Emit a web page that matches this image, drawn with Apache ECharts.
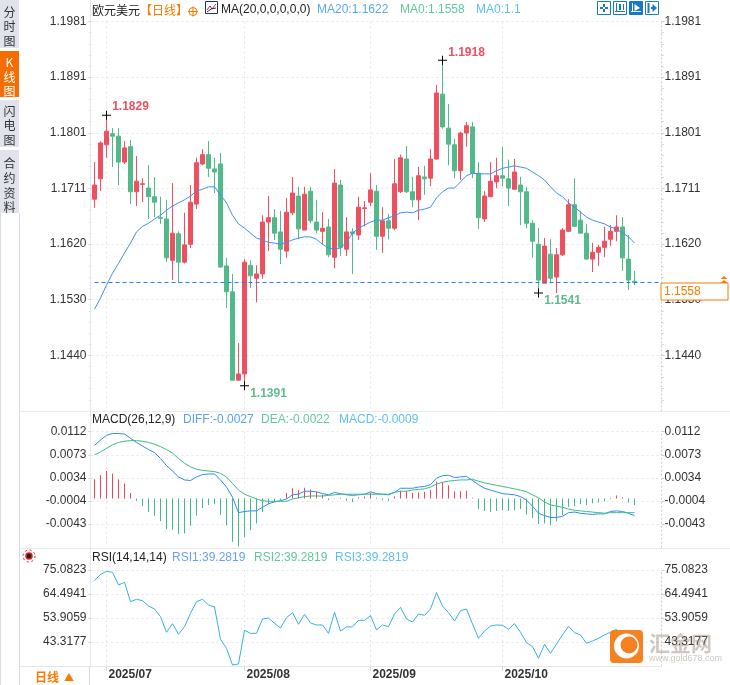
<!DOCTYPE html>
<html>
<head>
<meta charset="utf-8">
<style>
  html, body { margin: 0; padding: 0; background: #fff; }
  #chart { width: 730px; height: 685px; }
</style>
<script src="https://cdn.jsdelivr.net/npm/echarts@6/dist/echarts.min.js"></script>
</head>
<body>
<div id="chart"></div>
<script>
// trading days, the last four slots are the empty room right of the last candle
const categories = [
  '2025/06/27','2025/06/30',
  '2025/07/01','2025/07/02','2025/07/03','2025/07/04','2025/07/07','2025/07/08','2025/07/09','2025/07/10','2025/07/11',
  '2025/07/14','2025/07/15','2025/07/16','2025/07/17','2025/07/18','2025/07/21','2025/07/22','2025/07/23','2025/07/24','2025/07/25',
  '2025/07/28','2025/07/29','2025/07/30','2025/07/31',
  '2025/08/01','2025/08/04','2025/08/05','2025/08/06','2025/08/07','2025/08/08','2025/08/11','2025/08/12','2025/08/13','2025/08/14','2025/08/15',
  '2025/08/18','2025/08/19','2025/08/20','2025/08/21','2025/08/22','2025/08/25','2025/08/26','2025/08/27','2025/08/28','2025/08/29',
  '2025/09/01','2025/09/02','2025/09/03','2025/09/04','2025/09/05','2025/09/08','2025/09/09','2025/09/10','2025/09/11','2025/09/12',
  '2025/09/15','2025/09/16','2025/09/17','2025/09/18','2025/09/19','2025/09/22','2025/09/23','2025/09/24','2025/09/25','2025/09/26','2025/09/29','2025/09/30',
  '2025/10/01','2025/10/02','2025/10/03','2025/10/06','2025/10/07','2025/10/08','2025/10/09','2025/10/10','2025/10/13','2025/10/14','2025/10/15','2025/10/16','2025/10/17',
  '2025/10/20','2025/10/21','2025/10/22','2025/10/23','2025/10/24','2025/10/27','2025/10/28','2025/10/29','2025/10/30','2025/10/31',
  ' ','  ','   ','    '
];
const monthTicks = [2, 25, 46, 68];

const opens = [
  1.1693,1.1726,1.1781,1.1799,1.1795,1.1753,1.1778,1.1705,1.1717,1.1711,
  1.1697,1.1663,1.1661,1.1594,1.1637,1.1591,1.1620,1.1685,1.1750,1.1765,
  1.1742,1.1750,1.1585,1.1543,1.1400,1.1410,1.1586,1.1565,1.1572,1.1656,
  1.1663,1.1640,1.1609,1.1671,1.1698,1.1643,1.1706,1.1656,1.1641,1.1648,
  1.1599,1.1716,1.1612,1.1640,1.1635,1.1678,1.1688,1.1706,1.1633,1.1658,
  1.1646,1.1705,1.1758,1.1705,1.1692,1.1729,1.1727,1.1758,1.1863,1.1808,
  1.1781,1.1739,1.1800,1.1810,1.1735,1.1661,1.1697,1.1721,1.1731,1.1726,
  1.1709,1.1716,1.1705,1.1654,1.1620,1.1557,1.1604,1.1567,1.1603,1.1641,
  1.1684,1.1659,1.1638,1.1596,1.1607,1.1615,1.1628,1.1641,1.1648,1.1596,1.1560
];
const closes = [
  1.1716,1.1784,1.1803,1.1795,1.1753,1.1776,1.1705,1.1722,1.1718,1.1697,
  1.1688,1.1662,1.1598,1.1638,1.1591,1.1619,1.1688,1.1752,1.1765,1.1743,
  1.1737,1.1583,1.1543,1.1400,1.1410,1.1591,1.1569,1.1572,1.1656,1.1663,
  1.1638,1.1612,1.1672,1.1703,1.1645,1.1701,1.1658,1.1643,1.1646,1.1603,
  1.1719,1.1615,1.1640,1.1637,1.1680,1.1679,1.1708,1.1633,1.1658,1.1646,
  1.1718,1.1760,1.1705,1.1692,1.1731,1.1726,1.1758,1.1865,1.1810,1.1782,
  1.1739,1.1800,1.1812,1.1735,1.1663,1.1698,1.1722,1.1731,1.1727,1.1711,
  1.1737,1.1705,1.1654,1.1625,1.1562,1.1617,1.1565,1.1603,1.1643,1.1684,
  1.1649,1.1638,1.1596,1.1607,1.1615,1.1625,1.1641,1.1648,1.1598,1.1562,1.1558
];
const lows = [
  1.1679,1.1706,1.1760,1.1745,1.1716,1.1750,1.1685,1.1682,1.1688,1.1661,
  1.1664,1.1653,1.1591,1.1562,1.1557,1.1589,1.1614,1.1677,1.1748,1.1729,
  1.1703,1.1583,1.1517,1.1400,1.1400,1.1391,1.1549,1.1526,1.1564,1.1609,
  1.1627,1.1588,1.1598,1.1667,1.1628,1.1643,1.1654,1.1638,1.1620,1.1599,
  1.1581,1.1601,1.1601,1.1572,1.1627,1.1649,1.1682,1.1611,1.1606,1.1628,
  1.1643,1.1703,1.1703,1.1680,1.1659,1.1700,1.1714,1.1757,1.1807,1.1748,
  1.1727,1.1724,1.1778,1.1727,1.1645,1.1656,1.1697,1.1711,1.1714,1.1682,
  1.1709,1.1651,1.1646,1.1598,1.1541,1.1557,1.1557,1.1541,1.1601,1.1640,
  1.1649,1.1638,1.1596,1.1575,1.1585,1.1599,1.1617,1.1625,1.1577,1.1546,1.1554
];
const highs = [
  1.1753,1.1787,1.1829,1.1808,1.1808,1.1787,1.1789,1.1763,1.1727,1.1748,
  1.1729,1.1697,1.1692,1.1719,1.1641,1.1671,1.1716,1.1760,1.1774,1.1787,
  1.1760,1.1768,1.1598,1.1572,1.1460,1.1596,1.1594,1.1586,1.1667,1.1698,
  1.1677,1.1674,1.1695,1.1729,1.1713,1.1713,1.1713,1.1692,1.1672,1.1661,
  1.1742,1.1724,1.1664,1.1646,1.1697,1.1690,1.1735,1.1716,1.1680,1.1669,
  1.1758,1.1765,1.1779,1.1729,1.1745,1.1747,1.1774,1.1878,1.1918,1.1847,
  1.1791,1.1802,1.1818,1.1818,1.1753,1.1706,1.1753,1.1760,1.1778,1.1757,
  1.1758,1.1729,1.1713,1.1659,1.1646,1.1630,1.1628,1.1614,1.1646,1.1693,
  1.1727,1.1674,1.1653,1.1622,1.1619,1.1648,1.1651,1.1667,1.1664,1.1635,1.1577
];
const ma20 = [
  1.1515,1.1533,1.1554,1.1573,1.1589,1.1606,1.1622,1.1640,1.1649,1.1654,
  1.1661,1.1667,1.1675,1.1682,1.1687,1.1692,1.1698,1.1706,1.1709,1.1713,
  1.1713,1.1700,1.1687,1.1667,1.1653,1.1646,1.1638,1.1630,1.1627,1.1623,
  1.1622,1.1620,1.1623,1.1627,1.1630,1.1632,1.1632,1.1628,1.1620,1.1614,
  1.1612,1.1614,1.1623,1.1638,1.1646,1.1651,1.1656,1.1659,1.1659,1.1663,
  1.1666,1.1671,1.1672,1.1671,1.1675,1.1677,1.1680,1.1695,1.1705,1.1711,
  1.1711,1.1721,1.1731,1.1735,1.1734,1.1734,1.1734,1.1739,1.1743,1.1745,
  1.1747,1.1745,1.1743,1.1737,1.1731,1.1724,1.1713,1.1703,1.1697,1.1687,
  1.1680,1.1672,1.1664,1.1659,1.1656,1.1653,1.1648,1.1645,1.1638,1.1632,1.1622
];
const diff = [
  .0089,.0098,.0106,.0109,.0109,.0108,.0101,.0094,.0088,.0082,
  .0077,.0067,.0055,.0046,.0036,.0031,.0030,.0036,.0040,.0041,
  .0041,.0031,.0019,.0002,-.0024,-.0022,-.0021,-.0021,-.0015,-.0009,
  -.0006,-.0004,-.0001,.0006,.0007,.0012,.0012,.0011,.0008,.0006,
  .0010,.0008,.0006,.0005,.0006,.0007,.0011,.0008,.0007,.0006,
  .0010,.0017,.0017,.0017,.0019,.0020,.0023,.0034,.0038,.0039,
  .0035,.0036,.0037,.0030,.0023,.0017,.0014,.0011,.0008,.0007,
  .0006,.0003,-.0003,-.0013,-.0025,-.0029,-.0032,-.0032,-.0030,-.0024,
  -.0023,-.0025,-.0026,-.0027,-.0026,-.0026,-.0022,-.0021,-.0022,-.0025,-.0029
];
const dea = [
  .0073,.0078,.0084,.0090,.0094,.0096,.0097,.0097,.0096,.0094,
  .0091,.0087,.0082,.0076,.0067,.0059,.0053,.0049,.0047,.0046,
  .0045,.0042,.0036,.0025,.0014,.0007,.0003,-.0001,-.0004,-.0005,
  -.0005,-.0005,-.0005,-.0001,.0001,.0003,.0004,.0004,.0004,.0005,
  .0006,.0007,.0007,.0007,.0007,.0007,.0007,.0007,.0007,.0007,
  .0010,.0012,.0012,.0014,.0015,.0016,.0019,.0024,.0027,.0029,
  .0030,.0031,.0031,.0032,.0029,.0026,.0024,.0022,.0020,.0018,
  .0016,.0014,.0011,.0006,.0001,-.0006,-.0011,-.0013,-.0015,-.0018,
  -.0020,-.0021,-.0022,-.0023,-.0024,-.0025,-.0024,-.0024,-.0024,-.0024,-.0024
];
const macdBars = [
  .0032,.0039,.0046,.0042,.0032,.0025,.0009,-.0004,-.0013,-.0023,
  -.0029,-.0038,-.0052,-.0053,-.0060,-.0059,-.0046,-.0029,-.0016,-.0011,
  -.0010,-.0028,-.0045,-.0073,-.0081,-.0065,-.0053,-.0042,-.0023,-.0010,
  -.0006,-.0003,.0009,.0017,.0014,.0018,.0015,.0011,.0006,-.0003,
  -.0001,.0001,-.0004,-.0006,.0002,.0003,.0009,.0001,-.0003,-.0004,
  .0003,.0013,.0013,.0009,.0010,.0011,.0014,.0028,.0027,.0022,
  .0012,.0012,.0013,.0001,-.0018,-.0021,-.0023,-.0021,-.0020,-.0021,
  -.0020,-.0018,-.0027,-.0033,-.0043,-.0042,-.0045,-.0039,-.0028,-.0014,
  -.0013,-.0010,-.0011,-.0008,-.0007,-.0005,.0001,.0005,.0002,-.0007,-.0011
];
const rsi = [
  70.38,73.17,74.50,74.06,68.47,69.65,61.12,62.15,61.56,59.21,
  57.89,54.50,47.60,51.42,46.71,50.09,55.97,61.12,62.15,59.65,
  58.77,44.51,40.54,33.19,33.63,48.48,47.15,47.15,53.48,53.92,
  51.56,49.51,54.06,56.27,51.12,55.53,51.71,50.83,50.83,47.15,
  56.42,48.18,49.95,49.95,52.89,52.89,54.95,48.62,50.83,50.09,
  55.68,58.62,53.48,52.15,55.68,55.09,57.89,65.09,59.21,56.27,
  52.59,57.15,57.89,51.27,44.95,48.18,50.39,50.83,50.68,48.92,
  51.42,47.60,43.04,41.27,36.13,42.30,38.33,42.45,46.42,50.24,
  47.45,46.42,42.74,43.77,44.95,46.42,47.60,48.92,45.50,40.60,39.28
];
// marked extremes: [candle index, price]
const highMarks = [[2, 1.1829], [58, 1.1918]];
const lowMarks = [[25, 1.1391], [74, 1.1541]];
const lastPrice = 1.1558;

const priceLabels = ['', '1.1440', '1.1530', '1.1620', '1.1711', '1.1801', '1.1891', '1.1981'];
const macdTicks = [0.0112, 0.0073, 0.0034, -0.0004, -0.0043];
const rsiTicks = [75.0823, 64.4941, 53.9059, 43.3177];

const UP = '#ef5060';
const DOWN = '#52b98a';
const ORANGE = '#f57c00';
const FONT = '"Liberation Sans", "Noto Sans CJK SC", sans-serif';
const GRID_LINE = { type: [2, 3], color: '#e6e6e6', width: 1 };
const BORDER = '#e3e6ec';

const isMonth = (i) => monthTicks.includes(i);

function makeXAxis(gridIndex, showLabel) {
  return {
    type: 'category',
    gridIndex,
    data: categories,
    boundaryGap: true,
    axisLine: { show: false },
    axisTick: { show: showLabel, alignWithLabel: true, interval: isMonth, length: 5, lineStyle: { color: '#cfd3da' } },
    axisLabel: {
      show: showLabel,
      interval: isMonth,
      formatter: (v) => v.slice(0, 7),
      align: 'left',
      padding: [0, 0, 0, 2],
      margin: 3,
      color: '#333',
      fontWeight: 'bold',
      fontSize: 12,
      fontFamily: FONT
    },
    splitLine: { show: true, alignWithLabel: true, interval: isMonth, lineStyle: GRID_LINE }
  };
}

function makeYAxis(gridIndex, position, extra) {
  const left = position === 'left';
  return Object.assign({
    type: 'value',
    gridIndex,
    position,
    scale: true,
    axisLine: { show: !left, onZero: false, lineStyle: { color: '#c8c8c8', type: [1, 3] } },
    axisTick: { show: true, length: 3, lineStyle: { color: '#c8ccd2' } },
    splitLine: { show: left, lineStyle: GRID_LINE },
    axisLabel: { margin: left ? 5 : 3, color: '#333', fontSize: 12, fontFamily: FONT }
  }, extra);
}

const priceAxis = {
  min: 1.135008,
  max: 1.198064,
  interval: 0.009008,
  minorTick: { show: true, splitNumber: 5, length: 2, lineStyle: { color: '#c8ccd2' } }
};
function priceYAxis(position) {
  const axis = makeYAxis(0, position, priceAxis);
  axis.axisLabel.formatter = (v, i) => priceLabels[i];
  return axis;
}
function customYAxis(gridIndex, position, min, max, ticks, digits) {
  const axis = makeYAxis(gridIndex, position, { min, max });
  axis.axisTick.customValues = ticks;
  axis.axisLabel.customValues = ticks;
  axis.axisLabel.formatter = (v) => v.toFixed(digits);
  return axis;
}

function markLabel(offsetY, color) {
  return {
    show: true,
    position: 'inside',
    offset: [24, offsetY],
    formatter: (p) => p.value.toFixed(4),
    color,
    fontSize: 12,
    fontWeight: 'bold',
    fontFamily: FONT
  };
}
const CROSS = 'path://M0 4H4V0H5V4H9V5H5V9H4V5H0Z';
const extremePoints = [
  ...highMarks.map(([i, v]) => ({ coord: [i, v], value: v, label: markLabel(-8, UP) })),
  ...lowMarks.map(([i, v]) => ({ coord: [i, v], value: v, label: markLabel(8, '#5fba8f') }))
];

// ---- page furniture around the plot (tabs, legends, toolbar, logo) ----
const furniture = [];
function text(x, y, str, fill, font, extra) {
  furniture.push({
    type: 'text', z: 50, silent: true,
    style: Object.assign({ x, y, text: str, fill, font: font || '12px ' + FONT, textVerticalAlign: 'middle' }, extra)
  });
}
function line(x1, y1, x2, y2, stroke, width) {
  furniture.push({ type: 'line', z: 40, silent: true, shape: { x1, y1, x2, y2 }, style: { stroke, lineWidth: width || 1 } });
}
function rect(x, y, width, height, fill, stroke, r) {
  furniture.push({ type: 'rect', z: 40, silent: true, shape: { x, y, width, height, r: r || 0 }, style: { fill, stroke: stroke || null } });
}

// left tabs
rect(0, 0, 19, 48, '#e1e3ec');
rect(0, 51, 19, 46, '#f56c00');
rect(0, 100, 19, 47, '#e1e3ec');
rect(0, 150, 19, 63, '#e1e3ec');
const TAB_FONT = '12px "Noto Sans CJK SC"';
[['分', 12], ['时', 26], ['图', 41], ['闪', 111], ['电', 125], ['图', 140], ['合', 163], ['约', 178], ['资', 193], ['料', 207]]
  .forEach(([c, y]) => text(9.5, y, c, '#333', TAB_FONT, { textAlign: 'center' }));
[['K', 62], ['线', 77], ['图', 91]].forEach(([c, y]) => text(9.5, y, c, '#fff', TAB_FONT, { textAlign: 'center' }));

// panel frame
line(0.5, 213, 0.5, 685, '#d8dbe2');
line(19.5, 213, 19.5, 685, '#d8dbe2');
line(20, 411.5, 730, 411.5, '#e8e9ec');
line(20, 548.5, 730, 548.5, '#e8e9ec');
line(20, 666.5, 661, 666.5, BORDER);
line(89.5, 666, 89.5, 685, '#d8dbe2');
line(90.5, 0, 90.5, 666, BORDER);

// legends
text(92, 10, '欧元美元', '#222', TAB_FONT);
text(140, 10, '【日线】', ORANGE, TAB_FONT);
furniture.push({ type: 'circle', z: 50, silent: true, shape: { cx: 193, cy: 11.5, r: 4 }, style: { fill: 'none', stroke: ORANGE } });
line(188, 11.5, 198, 11.5, ORANGE);
line(193, 6.5, 193, 16.5, ORANGE);
rect(205.5, 1.5, 12, 12, '#fff', '#1c2f7a');
line(207, 10, 210, 6, '#d02030');
line(210, 6, 212, 9, '#d02030');
line(212, 9, 216, 4, '#d02030');
line(207, 12, 211, 9, '#1c2f7a');
line(211, 9, 216, 8, '#1c2f7a');
text(221, 10, 'MA(20,0,0,0,0,0)', '#222');
text(317, 10, 'MA20:1.1622', '#5aa9f0');
text(400, 10, 'MA0:1.1558', '#62c89c');
text(476, 10, 'MA0:1.1', '#5ec0ef');
text(92, 420, 'MACD(26,12,9)', '#222');
text(183, 420, 'DIFF:-0.0027', '#5aa2f0');
text(261, 420, 'DEA:-0.0022', '#62c89c');
text(339, 420, 'MACD:-0.0009', '#5ec0ef');
text(92, 558, 'RSI(14,14,14)', '#222');
text(172, 558, 'RSI1:39.2819', '#6a9ff0');
text(254, 558, 'RSI2:39.2819', '#62c89c');
text(335, 558, 'RSI3:39.2819', '#5ec0ef');

// toolbar top right
const TOOL = '#1878c4';
[597.5, 613.5, 629.5, 645.5].forEach((x, i) => {
  rect(x, 1.5, 13, 13, i === 2 ? TOOL : '#fff', TOOL);
});
line(604, 4, 604, 7, TOOL, 2); line(604, 9, 604, 12, TOOL, 2);
line(600, 8, 603, 8, TOOL, 2); line(605, 8, 608, 8, TOOL, 2);
line(616.5, 3, 616.5, 12, TOOL); line(615, 11.5, 625, 11.5, TOOL);
line(620, 4, 620, 10, TOOL, 2); line(623.5, 4, 623.5, 10, TOOL);
line(632.5, 3, 632.5, 12, '#fff'); line(631, 11.5, 641, 11.5, '#fff');
furniture.push({ type: 'polygon', z: 50, silent: true, shape: { points: [[634.5, 4], [640, 8], [634.5, 11]] }, style: { fill: '#fff' } });
line(648.5, 3, 648.5, 13, TOOL, 2);
line(651, 8, 656, 8, TOOL, 2);
furniture.push({ type: 'polygon', z: 50, silent: true, shape: { points: [[652.5, 4], [657, 8], [652.5, 12]] }, style: { fill: TOOL } });

// last price box
rect(661, 283, 67, 17, '#fff', ORANGE);
text(664, 292, lastPrice.toFixed(4), ORANGE);
[[276, 279], [280, 283]].forEach(([top, bottom]) => {
  furniture.push({ type: 'polygon', z: 50, silent: true, shape: { points: [[724, top], [720.5, bottom], [727.5, bottom]] }, style: { fill: ORANGE } });
});

// RSI sun icon
furniture.push({ type: 'circle', z: 50, silent: true, shape: { cx: 29, cy: 556, r: 3 }, style: { fill: '#222', stroke: '#e02020', lineWidth: 1.5 } });
furniture.push({ type: 'circle', z: 50, silent: true, shape: { cx: 29, cy: 556, r: 6 }, style: { fill: 'none', stroke: '#e02020', lineDash: [2, 2.7] } });

// period button
text(35, 677, '日线', ORANGE, 'bold 12px "Noto Sans CJK SC"');
text(64, 677, '▲', ORANGE, '10px "Noto Sans CJK SC"');

// logo and watermark
rect(610, 630, 33, 33, '#f58220', null, 4);
furniture.push({ type: 'circle', z: 51, silent: true, shape: { cx: 626.5, cy: 646, r: 12.5 }, style: { fill: '#fff' } });
furniture.push({ type: 'circle', z: 52, silent: true, shape: { cx: 629, cy: 645, r: 8.5 }, style: { fill: '#f58220' } });
furniture.push({
  type: 'text', z: 53, silent: true,
  style: { x: 649, y: 643, text: '汇金网', fill: 'rgba(150,130,115,0.45)', font: 'bold 21px "Noto Sans CJK SC"', textVerticalAlign: 'middle' }
});
furniture.push({
  type: 'text', z: 53, silent: true,
  style: { x: 649, y: 659, text: 'www.gold678.com', fill: 'rgba(170,160,150,0.6)', font: '9px ' + FONT, textVerticalAlign: 'middle' }
});

const option = {
  animation: false,
  backgroundColor: '#fff',
  grid: [
    { left: 91.5, width: 570, top: 21.5, height: 389.5 },
    { left: 91.5, width: 570, top: 431.7, height: 115.5 },
    { left: 91.5, width: 570, top: 570, height: 96 }
  ],
  xAxis: [makeXAxis(0, false), makeXAxis(1, false), makeXAxis(2, true)],
  yAxis: [
    priceYAxis('left'),
    priceYAxis('right'),
    customYAxis(1, 'left', -0.0082, 0.0112, macdTicks, 4),
    customYAxis(1, 'right', -0.0082, 0.0112, macdTicks, 4),
    customYAxis(2, 'left', 32.7295, 75.0823, rsiTicks, 4),
    customYAxis(2, 'right', 32.7295, 75.0823, rsiTicks, 4)
  ],
  series: [
    {
      type: 'candlestick',
      xAxisIndex: 0,
      yAxisIndex: 0,
      barWidth: 4,
      data: opens.map((o, i) => [o, closes[i], lows[i], highs[i]]),
      itemStyle: { color: UP, color0: DOWN, borderColor: UP, borderColor0: DOWN, borderWidth: 1 },
      markPoint: {
        silent: true,
        symbol: CROSS,
        symbolSize: 9,
        itemStyle: { color: '#000' },
        data: extremePoints
      }
    },
    {
      type: 'line', xAxisIndex: 0, yAxisIndex: 0, data: ma20,
      showSymbol: false, lineStyle: { color: '#3c90f0', width: 1 },
      markLine: {
        silent: true,
        symbol: 'none',
        label: { show: false },
        lineStyle: { color: '#1f80ee', type: [4, 3], width: 1 },
        data: [[{ coord: [0, lastPrice] }, { coord: [categories.length - 1, lastPrice] }]]
      }
    },
    {
      type: 'bar', xAxisIndex: 1, yAxisIndex: 2, data: macdBars, barWidth: 1,
      itemStyle: { color: (p) => (p.value >= 0 ? '#e8485c' : '#43b88a') }
    },
    {
      type: 'line', xAxisIndex: 1, yAxisIndex: 2, data: diff,
      showSymbol: false, lineStyle: { color: '#2e8cf0', width: 1 }
    },
    {
      type: 'line', xAxisIndex: 1, yAxisIndex: 2, data: dea,
      showSymbol: false, lineStyle: { color: '#3dbb85', width: 1 }
    },
    {
      type: 'line', xAxisIndex: 2, yAxisIndex: 4, data: rsi,
      showSymbol: false, lineStyle: { color: '#35b0e6', width: 1 }
    }
  ],
  graphic: { elements: furniture }
};

const myChart = echarts.init(document.getElementById('chart'), null, { renderer: 'canvas' });
myChart.setOption(option);
</script>
</body>
</html>
